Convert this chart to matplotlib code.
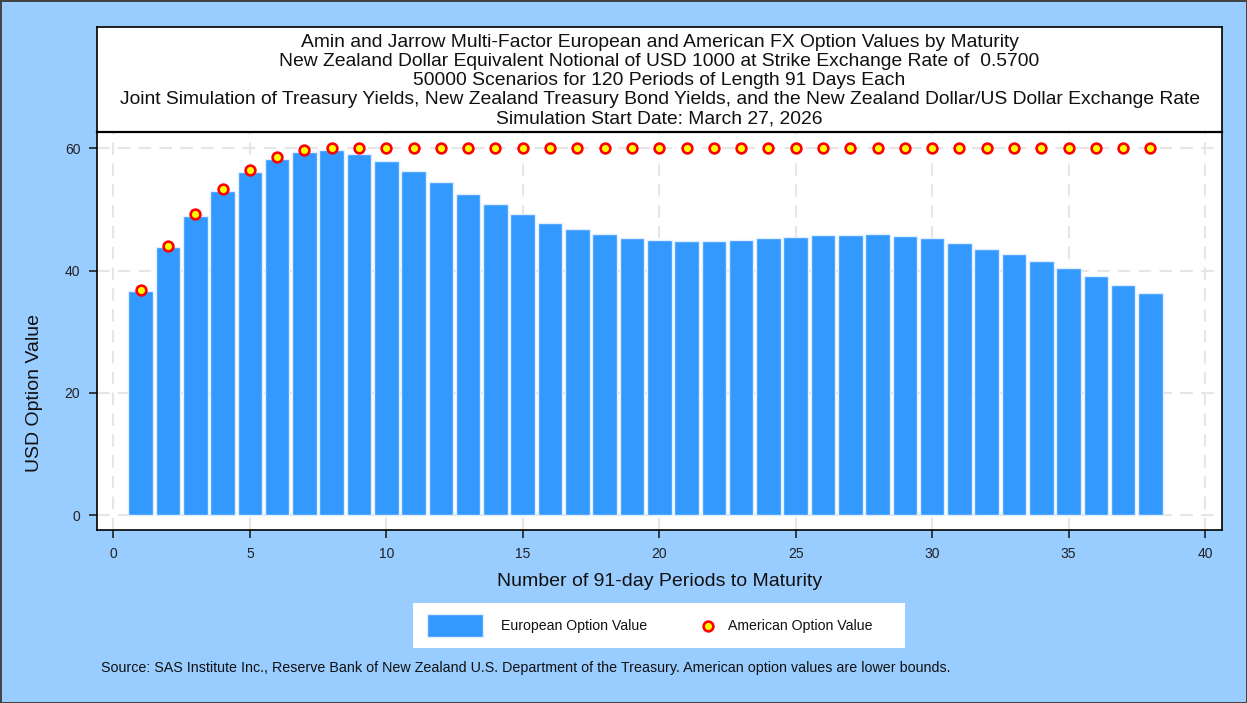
import matplotlib
matplotlib.use("Agg")
import matplotlib.pyplot as plt
from matplotlib.patches import Rectangle
import numpy as np

plt.rcParams['font.family'] = ['Liberation Sans', 'DejaVu Sans']

# periods to maturity (91-day periods)
periods = np.arange(1, 39)

# European option values (bars)
european = [36.6, 43.8, 48.9, 53.0, 56.1, 58.3, 59.5, 59.8, 59.1, 57.9,
            56.3, 54.5, 52.5, 50.9, 49.2, 47.8, 46.8, 46.0, 45.4, 45.1,
            44.8, 44.9, 45.1, 45.3, 45.5, 45.8, 45.9, 46.0, 45.7, 45.3,
            44.5, 43.6, 42.7, 41.6, 40.4, 39.1, 37.7, 36.3]

# American option values (lower bounds, markers)
american = [36.9, 44.1, 49.3, 53.4, 56.4, 58.6, 59.7, 60.0, 60.0, 60.0,
            60.0, 60.0, 60.0, 60.0, 60.0, 60.0, 60.0, 60.0, 60.0, 60.0,
            60.0, 60.0, 60.0, 60.0, 60.0, 60.0, 60.0, 60.0, 60.0, 60.0,
            60.0, 60.0, 60.0, 60.0, 60.0, 60.0, 60.0, 60.0]

title_lines = [
    "Amin and Jarrow Multi-Factor European and American FX Option Values by Maturity",
    "New Zealand Dollar Equivalent Notional of USD 1000 at Strike Exchange Rate of  0.5700",
    "50000 Scenarios for 120 Periods of Length 91 Days Each",
    "Joint Simulation of Treasury Yields, New Zealand Treasury Bond Yields, and the New Zealand Dollar/US Dollar Exchange Rate",
    "Simulation Start Date: March 27, 2026",
]
source = ("Source: SAS Institute Inc., Reserve Bank of New Zealand U.S. Department of the Treasury. "
          "American option values are lower bounds.")

W, H = 1247, 703
BG = '#99ccff'
BAR = '#3399ff'

fig = plt.figure(figsize=(W / 100, H / 100), dpi=100, facecolor=BG)
fig.patch.set_edgecolor('#444444')
fig.patch.set_linewidth(2)


def px_box(x0, y0, x1, y1):
    return [x0 / W, 1 - y1 / H, (x1 - x0) / W, (y1 - y0) / H]


# title box
tax = fig.add_axes(px_box(97, 27, 1222, 132))
tax.set_facecolor('white')
tax.set_xticks([])
tax.set_yticks([])
for s in tax.spines.values():
    s.set_color('black')
    s.set_linewidth(1.2)
tax.text(0.5, 0.49, "\n".join(title_lines), ha='center', va='center',
         fontsize=13.9, linespacing=1.17, color='#111111', transform=tax.transAxes)

# main plot
ax = fig.add_axes(px_box(97, 132, 1222, 530))
ax.set_facecolor('white')
ax.bar(periods, european, width=0.9, color=BAR, edgecolor='#e0eeff',
       linewidth=1.0, zorder=2)
ax.plot(periods, american, linestyle='none', marker='o', markersize=7,
        markerfacecolor='#ffff00', markeredgecolor='#ff0000',
        markeredgewidth=1.9, zorder=3)

ax.set_xlim(-0.6, 40.62)
ax.set_ylim(-2.45, 62.7)
ax.set_xticks(np.arange(0, 41, 5))
ax.set_yticks([0, 20, 40, 60])
ax.grid(True, color='#e6e6e6', linestyle=(0, (6, 4)), linewidth=1.5, zorder=0)
ax.tick_params(axis='both', direction='out', length=6, width=1.2,
               color='#222222', labelsize=10, labelcolor='#222222', pad=6)
for name, s in ax.spines.items():
    s.set_color('black')
    s.set_linewidth(1.6 if name == 'top' else 1.2)

ax.set_ylabel("USD Option Value", fontsize=14, color='#111111')
ax.yaxis.set_label_coords(-0.048, 0.344)
ax.set_xlabel("Number of 91-day Periods to Maturity", fontsize=14,
              color='#111111', labelpad=9)

# legend box
lax = fig.add_axes(px_box(413, 603, 905, 648))
lax.set_xlim(0, 492)
lax.set_ylim(45, 0)
lax.set_facecolor('white')
lax.set_xticks([])
lax.set_yticks([])
for s in lax.spines.values():
    s.set_visible(False)
lax.add_patch(Rectangle((14, 11), 56, 23, facecolor=BAR, edgecolor='#e0eeff', linewidth=1))
lax.text(88, 23, "European Option Value", fontsize=10.2, va='center', color='#111111')
lax.plot([295], [23], linestyle='none', marker='o', markersize=7,
         markerfacecolor='#ffff00', markeredgecolor='#ff0000', markeredgewidth=1.9)
lax.text(315, 23, "American Option Value", fontsize=10.2, va='center', color='#111111')

fig.text(101 / W, 1 - 668 / H, source, fontsize=10.25, va='center', ha='left', color='#111111')

fig.savefig("out.png", dpi=100, facecolor=fig.get_facecolor(), edgecolor=fig.patch.get_edgecolor())
